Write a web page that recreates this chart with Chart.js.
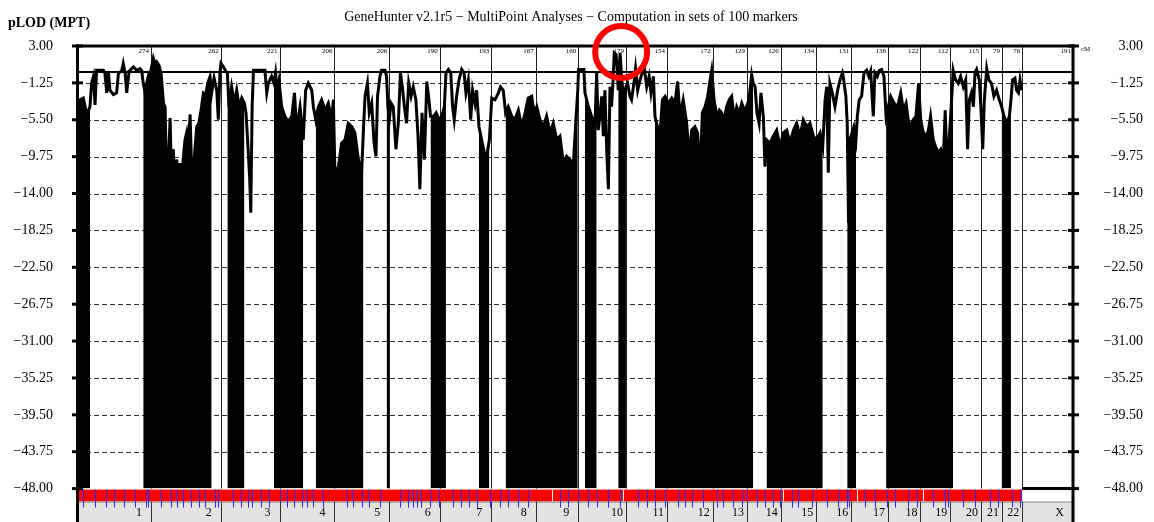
<!DOCTYPE html>
<html><head><meta charset="utf-8">
<script src="https://cdn.jsdelivr.net/npm/chart.js@4.4.1/dist/chart.umd.min.js"></script>
<style>html,body{margin:0;padding:0;background:#fff}#wrap{width:1154px;height:522px;position:relative}</style>
</head><body><div id="wrap"><canvas id="c" width="1154" height="522"></canvas></div>
<script>
const chromNames = ['1','2','3','4','5','6','7','8','9','10','11','12','13','14','15','16','17','18','19','20','21','22','X'];
const chromLengthsCM = [274,262,221,206,206,190,193,167,160,179,154,172,129,126,134,131,138,122,112,115,79,76,191];
const yTicks = [3,-1.25,-5.5,-9.75,-14,-18.25,-22.5,-26.75,-31,-35.25,-39.5,-43.75,-48];
const titleText = 'GeneHunter v2.1r5 \u2212 MultiPoint Analyses \u2212 Computation in sets of 100 markers';
const yAxisTitle = 'pLOD (MPT)';

const tracePosCM = [0,8,20,33,45,51,58,64,70,95,101,108,114,120,133,145,152,164,170,177,183,192,208,220,233,239,245,252,258,267,274,
283,289,295,304,312,321,327,333,339,346,352,358,364,371,377,383,389,396,402,408,414,421,427,433,439,446,454,464,471,480,487,496,502,511,521,527,533,
537,546,555,561,567,577,587,596,605,615,625,631,637,645,649,654,659,702,709,715,727,736,742,749,755,
765,777,790,803,813,821,834,846,855,865,878,884,893,903,915,928,940,953,959,
965,978,990,1003,1015,1028,1040,1053,1065,1072,1078,1087,1094,1103,1112,1119,1125,1134,1140,1153,1159,1164,
1169,1176,1184,1194,1203,1211,1218,1226,1234,1242,1251,1259,1269,1277,1284,1292,1301,1310,1318,1324,1335,1345,1356,
1366,1376,1382,1391,1400,1407,1413,1422,1431,1441,1450,1457,1466,1475,1482,1491,1497,1506,1516,1526,1535,1545,
1554,1566,1579,1587,1597,1606,1616,1629,1641,1654,1666,1679,1691,1704,1713,
1723,1735,1748,1760,1773,1785,1798,1810,1823,1835,1848,1860,1870,1877,
1880,1900,1904,1917,1929,1942,1948,1954,1960,1967,1973,1979,1986,1992,1998,2004,2011,2014,2021,2026,2029,2036,2042,2051,
2058,2064,2073,2079,2088,2094,2102,2111,2119,2127,2136,2145,2152,2161,2167,2176,2186,2195,
2205,2217,2230,2242,2252,2261,2273,2286,2295,2305,2317,2327,2336,2345,2355,2365,2374,2380,
2389,2399,2409,2417,2427,2436,2446,2455,2465,2474,2484,2493,2503,2511,
2520,2530,2536,2543,2550,2558,2565,2574,2580,2586,2599,2611,2624,2637,
2649,2662,2674,2687,2699,2712,2724,2737,2749,2762,2774,
2787,2797,2806,2812,2818,2824,2833,2843,2853,2862,2871,2874,2884,2889,2894,2899,
2907,2914,2922,2927,2934,2943,2952,2962,2970,2977,2987,2993,3002,3010,3018,3027,3035,
3043,3052,3062,3072,3081,3090,3100,3110,3118,3127,3137,3147,3157,
3165,3175,3185,3194,3202,3212,3221,3231,3240,3250,3257,3265,3272,
3281,3287,3296,3306,3315,3325,3334,3341,3348,3356,3363,3369,3375,3385,
3391,3398,3404,3413,3421,3431,3440,3450,3460,
3469,3478,3488,3498,3504,3510,3519,3525,3532,3538,3544];

const traceLOD = [-5.1,-3.2,-3.0,-4.9,-4.0,-1.3,-0.5,-3.8,0.2,0.2,-0.1,-2.4,0.1,-2.1,-2.6,-2.4,-0.1,0.1,1.0,-0.1,-2.4,0.1,0.6,0.2,0.4,0.2,-1.3,-2.4,-1.3,-0.1,0.2,
1.6,1.0,1.2,0.8,-0.1,-3.6,-4.0,-12.4,-10.9,-5.3,-13.9,-8.9,-13.5,-10.1,-13.9,-10.5,-12.4,-9.7,-7.8,-7.0,-8.9,-4.9,-11.6,-12.0,-8.9,-6.3,-5.9,-4.0,-2.4,-2.6,-1.3,-0.5,-2.4,-0.7,-2.1,-5.5,-0.1,
1.0,0.6,0.1,-0.1,-4.0,-1.7,-3.6,-2.1,-4.0,-3.0,-3.6,-4.7,-7.8,-12.4,-16.2,-4.0,0.2,0.2,-2.4,-1.3,-0.5,-1.3,-0.1,-2.4,-1.1,
-4.0,-5.1,-5.7,-5.1,-2.4,-6.6,-4.0,-7.8,-2.1,-1.3,-2.1,-4.0,-5.5,-4.0,-3.2,-4.4,-3.6,-5.5,-3.2,
-11.6,-10.9,-8.2,-7.8,-5.9,-6.3,-7.0,-10.1,-11.6,-6.7,-2.8,-1.3,-4.7,-3.6,-8.2,-9.7,-2.8,-0.5,0.2,0.2,-0.5,-4.0,
-5.5,-3.6,-4.0,-8.9,-5.9,-0.1,-1.7,-4.0,-5.9,-1.3,-2.8,-1.7,-3.2,-7.4,-13.5,-4.7,-10.1,-1.1,-3.2,-5.1,-5.1,-4.7,-5.5,
-5.1,-4.0,-0.1,0.3,-0.1,-4.0,-5.5,-2.8,-0.9,0.3,-0.1,-2.4,-0.9,-5.5,-2.1,-3.6,-2.1,-6.3,-7.8,-9.3,-9.7,-7.8,
-3.0,-3.2,-2.4,-1.7,-2.1,-4.7,-4.0,-5.1,-5.5,-4.4,-6.3,-4.7,-3.0,-2.8,-4.7,
-4.0,-5.5,-6.3,-5.1,-7.0,-5.9,-7.8,-7.4,-10.5,-9.7,-10.1,-10.9,-5.5,-2.1,
0.3,0.3,-2.4,-4.0,-5.1,-5.9,-0.1,-6.7,-5.1,-2.8,-7.4,-2.1,-9.3,-13.5,-1.7,-4.0,-0.1,2.2,2.0,-0.1,-2.1,2.2,-0.9,-3.2,
-1.7,-1.3,-2.8,-3.2,-1.3,0.4,-2.1,-0.9,-0.1,0.4,-1.7,-0.5,-2.4,-0.5,-5.1,-6.3,-7.0,-3.2,
-2.8,-3.6,-3.0,-3.6,-1.1,-5.1,-3.2,-5.9,-9.7,-6.7,-6.3,-7.0,-12.0,-4.7,-4.0,-2.8,-0.9,0.2,
-3.2,-5.1,-4.4,-4.7,-5.5,-4.0,-3.2,-2.8,-5.5,-4.0,-4.7,-3.6,-4.4,-4.0,
-3.2,-0.3,-1.3,-1.7,-4.7,-5.9,-2.4,-5.1,-10.9,-7.8,-8.2,-7.4,-6.7,-8.6,
-7.0,-6.7,-8.2,-6.7,-5.9,-7.4,-5.5,-6.3,-5.9,-7.4,-7.8,
-7.0,-8.6,-3.2,-1.7,-11.6,-1.3,-2.4,-4.0,-2.1,-0.9,-0.1,-0.5,-2.8,-5.9,-17.4,-7.8,
-7.0,-6.3,-7.8,-5.1,-3.2,-2.8,-0.1,0.2,-0.5,0.1,-5.1,-0.1,-0.5,0.2,0.3,-0.5,-5.1,
-4.0,-2.8,-3.4,-4.0,-3.6,-2.4,-4.4,-3.6,-5.5,-6.3,-5.5,-5.1,-1.3,
-5.5,-7.0,-7.4,-6.7,-5.1,-7.8,-8.6,-9.3,-8.9,-10.1,-4.4,-11.6,-7.8,
-3.2,0.2,-0.9,-1.3,-0.5,-1.7,-0.9,-8.9,-3.2,-2.4,-4.0,-0.1,0.3,-0.9,
-4.0,-8.9,-3.2,0.4,-0.9,-1.3,-2.8,-2.1,-3.2,
-4.0,-5.1,-5.9,-5.1,-3.2,-0.9,-0.7,-2.1,-2.4,-0.9,-2.1];

// stretches (cM) where the curve drops repeatedly to the floor, drawn as solid black
const solidRangesCM = [[0,45],[245,502],[561,625],[736,846],[893,1072],[1159,1169],[1324,1382],[1506,1545],[1606,1877],[1904,1948],[2029,2058],[2167,2536],[2586,2797],[2889,2922],[3035,3287],[3469,3504]];

const markerPosCM = [19,64,105,135,173,214,255,263,312,349,372,394,424,454,477,515,526,582,612,638,653,687,717,758,785,811,841,860,883,920,1010,1033,1067,1093,1134,1209,1239,1258,1273,1288,1322,1356,1408,1438,1468,1499,1547,1585,1615,1653,1690,1810,1840,1878,1915,1949,1990,2036,2103,2137,2167,2205,2253,2280,2306,2347,2400,2422,2460,2494,2513,2550,2580,2610,2636,2682,2704,2757,2813,2854,2888,2896,2956,2993,3038,3068,3117,3151,3211,3256,3267,3324,3369,3425,3455,3508,3538];
const bandGapPosCM = [1780,2047,2648,2926,3174];
const highlightCM = 2040, highlightLOD = 2.3;

const yMin = -48, yMax = 3;
const bounds = [];
let acc = 0;
chromLengthsCM.forEach(l => { acc += l; bounds.push(acc); });
const totalCM = acc;
const autosomeEnd = bounds[21];

const SERIF = '"Liberation Serif","Times New Roman",serif';
const fmt = v => v.toFixed(2).replace('-', '\u2212');

const datasets = [{
  data: tracePosCM.map((x, i) => ({x, y: traceLOD[i]})),
  borderColor: '#000', borderWidth: 3, pointRadius: 0, fill: false, tension: 0, order: 0
}];
solidRangesCM.forEach(r => {
  const pts = [];
  tracePosCM.forEach((x, i) => { if (x >= r[0] && x <= r[1]) pts.push({x, y: traceLOD[i]}); });
  datasets.push({data: pts, borderColor: '#000', borderWidth: 1, pointRadius: 0, fill: 'start', backgroundColor: '#000', tension: 0, order: 1});
});

const frame = {
  id: 'frame',
  beforeDatasetsDraw(chart) {
    const {ctx, chartArea: a, scales: {x, y}} = chart;
    ctx.save();
    ctx.strokeStyle = '#333'; ctx.lineWidth = 1; ctx.setLineDash([5, 3]);
    yTicks.forEach(v => {
      if (v === yMax || v === yMin) return;
      const py = Math.round(y.getPixelForValue(v)) + 0.5;
      ctx.beginPath(); ctx.moveTo(a.left, py); ctx.lineTo(a.right, py); ctx.stroke();
    });
    ctx.setLineDash([]);
    ctx.strokeStyle = '#222'; ctx.lineWidth = 1;
    bounds.slice(0, -1).forEach(b => {
      const xp = Math.round(x.getPixelForValue(b)) + 0.5;
      ctx.beginPath(); ctx.moveTo(xp, a.top); ctx.lineTo(xp, a.bottom); ctx.stroke();
    });
    ctx.strokeStyle = '#000'; ctx.lineWidth = 2;
    const z = y.getPixelForValue(0);
    ctx.beginPath(); ctx.moveTo(a.left, z); ctx.lineTo(a.right, z); ctx.stroke();
    ctx.restore();
  },
  afterDatasetsDraw(chart) {
    const {ctx, chartArea: a, scales: {x, y}} = chart;
    const H = chart.height;
    ctx.save();
    const bandTop = a.bottom + 1, bandBot = a.bottom + 13;
    const x0 = x.getPixelForValue(0), x22 = x.getPixelForValue(autosomeEnd);
    ctx.fillStyle = '#ff0000';
    ctx.fillRect(x0, bandTop, x22 - x0, bandBot - bandTop);
    ctx.strokeStyle = '#ffffff'; ctx.lineWidth = 1;
    bandGapPosCM.forEach(c => { const xp = Math.round(x.getPixelForValue(c)) + 0.5; ctx.beginPath(); ctx.moveTo(xp, bandTop); ctx.lineTo(xp, bandBot); ctx.stroke(); });
    ctx.fillStyle = '#e2e2e2';
    ctx.fillRect(a.left, bandBot, a.right - a.left, H - bandBot);
    ctx.strokeStyle = '#888'; ctx.lineWidth = 1;
    ctx.beginPath(); ctx.moveTo(a.left, bandBot + 0.5); ctx.lineTo(a.right, bandBot + 0.5); ctx.stroke();
    ctx.strokeStyle = '#2a2aff'; ctx.lineWidth = 1;
    markerPosCM.forEach(c => { const xp = Math.round(x.getPixelForValue(c)) + 0.5; ctx.beginPath(); ctx.moveTo(xp, bandTop); ctx.lineTo(xp, bandBot + 6); ctx.stroke(); });
    ctx.strokeStyle = '#333';
    bounds.slice(0, -1).forEach(b => {
      const xp = Math.round(x.getPixelForValue(b)) + 0.5;
      ctx.beginPath(); ctx.moveTo(xp, bandBot); ctx.lineTo(xp, H); ctx.stroke();
    });
    ctx.fillStyle = '#000'; ctx.font = '12px ' + SERIF; ctx.textAlign = 'right'; ctx.textBaseline = 'middle';
    bounds.forEach((b, i) => {
      const xp = x.getPixelForValue(b);
      ctx.fillText(chromNames[i], xp - (chromNames[i].length === 1 ? 9 : 3), bandBot + 11);
    });
    ctx.strokeStyle = '#000'; ctx.lineWidth = 3;
    ctx.beginPath(); ctx.moveTo(x22, a.bottom); ctx.lineTo(a.right, a.bottom); ctx.stroke();
    ctx.beginPath(); ctx.moveTo(a.left - 0.5, a.top - 1.5); ctx.lineTo(a.left - 0.5, H); ctx.stroke();
    ctx.beginPath(); ctx.moveTo(a.right, a.top - 1.5); ctx.lineTo(a.right, H); ctx.stroke();
    ctx.beginPath(); ctx.moveTo(a.left - 2, a.top); ctx.lineTo(a.right + 1.5, a.top); ctx.stroke();
    yTicks.forEach(v => {
      const py = y.getPixelForValue(v);
      ctx.beginPath(); ctx.moveTo(a.left - 6, py); ctx.lineTo(a.left + 5, py); ctx.stroke();
      ctx.beginPath(); ctx.moveTo(a.right - 5, py); ctx.lineTo(a.right + 6, py); ctx.stroke();
    });
    ctx.font = '7px ' + SERIF; ctx.textAlign = 'right'; ctx.textBaseline = 'middle';
    bounds.forEach((b, i) => {
      ctx.fillText(String(chromLengthsCM[i]), x.getPixelForValue(b) - 2, a.top + 5);
    });
    ctx.textAlign = 'left';
    ctx.fillText('cM', a.right + 8, a.top + 3);
    ctx.font = '14px ' + SERIF; ctx.textAlign = 'center'; ctx.textBaseline = 'middle';
    ctx.fillText(titleText, 571, 17);
    ctx.font = 'bold 14px ' + SERIF; ctx.textAlign = 'left';
    ctx.fillText(yAxisTitle, 8, 23);
    ctx.strokeStyle = '#ff0000'; ctx.lineWidth = 6;
    ctx.beginPath(); ctx.arc(x.getPixelForValue(highlightCM), y.getPixelForValue(highlightLOD), 26, 0, Math.PI * 2); ctx.stroke();
    ctx.restore();
  }
};

const tickCfg = {font: {family: SERIF, size: 14}, color: '#000', autoSkip: false, callback: v => fmt(v)};
new Chart(document.getElementById('c'), {
  type: 'line',
  data: {datasets},
  options: {
    responsive: false, animation: false, events: [],
    layout: {padding: {top: 46, bottom: 33, left: 0, right: 11}},
    plugins: {legend: {display: false}, tooltip: {enabled: false}},
    scales: {
      x: {type: 'linear', min: 0, max: totalCM, display: false},
      y: {type: 'linear', position: 'left', min: yMin, max: yMax,
          afterFit: s => { s.width = 78; },
          afterBuildTicks: s => { s.ticks = yTicks.map(v => ({value: v})); },
          grid: {display: false, drawTicks: false, tickLength: 0}, border: {display: false},
          ticks: Object.assign({padding: 25}, tickCfg)},
      y2: {type: 'linear', position: 'right', min: yMin, max: yMax,
          afterFit: s => { s.width = 70; },
          afterBuildTicks: s => { s.ticks = yTicks.map(v => ({value: v})); },
          grid: {display: false, drawTicks: false, tickLength: 0}, border: {display: false},
          ticks: Object.assign({padding: 0, crossAlign: 'far'}, tickCfg)}
    }
  },
  plugins: [frame]
});
</script></body></html>
